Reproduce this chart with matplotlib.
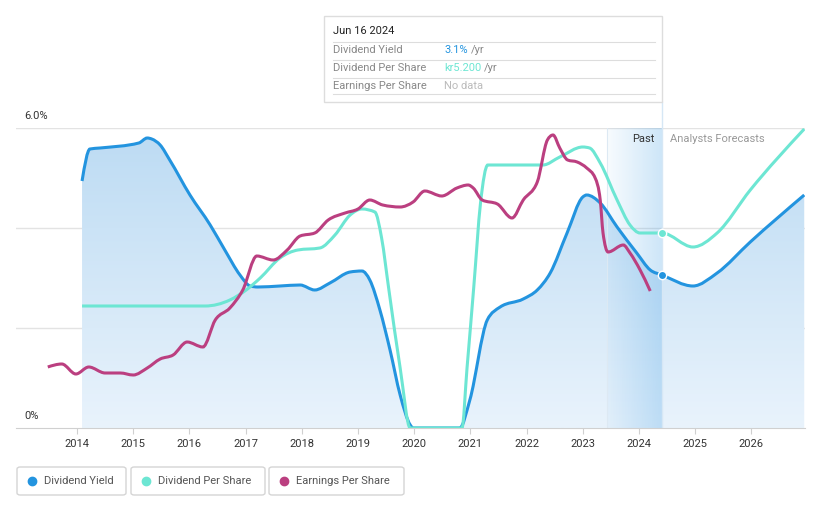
import numpy as np
import matplotlib
matplotlib.use("Agg")
from matplotlib import pyplot as plt
from matplotlib.patches import FancyBboxPatch, Rectangle, PathPatch
from matplotlib.path import Path
from matplotlib.lines import Line2D

plt.rcParams['font.family'] = ['Roboto', 'DejaVu Sans']

# dividend yield (%)
yieldYears = [2014.09, 2014.23, 2014.41, 2015.10, 2015.25, 2015.33, 2015.48, 2015.65,
              2016.01, 2016.37, 2016.63, 2016.90, 2017.08, 2017.22, 2017.61, 2017.97,
              2018.23, 2018.50, 2018.86, 2019.07, 2019.21, 2019.39, 2019.57, 2019.75,
              2019.93, 2019.98, 2020.81, 2020.99, 2021.30, 2021.53, 2021.94, 2022.19,
              2022.42, 2022.72, 2023.00, 2023.07, 2023.31, 2023.61, 2023.96, 2024.20,
              2024.41, 2024.96, 2025.39, 2025.98, 2026.94]
yieldVals = [4.94, 5.58, 5.60, 5.70, 5.80, 5.78, 5.66, 5.36,
             4.66, 4.06, 3.56, 3.06, 2.84, 2.82, 2.84, 2.86,
             2.76, 2.90, 3.12, 3.14, 2.96, 2.36, 1.56, 0.66,
             0.06, 0.0, 0.0, 0.56, 2.16, 2.42, 2.58, 2.76,
             3.10, 3.90, 4.62, 4.66, 4.50, 4.02, 3.50, 3.16,
             3.06, 2.84, 3.10, 3.72, 4.66]

# dividend per share (scaled to the same axis)
dpsYears = [2014.09, 2016.28, 2016.72, 2017.01, 2017.26, 2017.61, 2017.93, 2018.32,
            2018.59, 2018.86, 2019.07, 2019.30, 2019.42, 2019.55, 2019.75, 2019.93,
            2020.85, 2020.94, 2021.06, 2021.18, 2021.31, 2022.29, 2022.59, 2023.00,
            2023.12, 2023.31, 2023.61, 2023.84, 2024.02, 2024.41, 2024.96, 2025.39,
            2025.98, 2026.94]
dpsVals = [2.44, 2.44, 2.56, 2.76, 3.00, 3.40, 3.56, 3.60,
           3.86, 4.26, 4.38, 4.32, 3.80, 2.76, 1.20, 0.0,
           0.0, 1.20, 2.82, 4.50, 5.26, 5.26, 5.42, 5.62,
           5.60, 5.30, 4.56, 4.06, 3.90, 3.90, 3.62, 3.90,
           4.76, 5.98]

# earnings per share (scaled to the same axis)
epsYears = [2013.48, 2013.73, 2013.98, 2014.21, 2014.50, 2014.77, 2015.00, 2015.25,
            2015.48, 2015.71, 2015.96, 2016.24, 2016.46, 2016.72, 2016.95, 2017.20,
            2017.49, 2017.74, 2017.97, 2018.23, 2018.47, 2018.77, 2019.00, 2019.21,
            2019.44, 2019.75, 2019.98, 2020.19, 2020.49, 2020.76, 2020.96, 2021.05,
            2021.21, 2021.48, 2021.74, 2021.94, 2022.19, 2022.37, 2022.47, 2022.59,
            2022.73, 2022.90, 2023.07, 2023.22, 2023.31, 2023.36, 2023.45, 2023.72,
            2023.84, 2024.02, 2024.20]
epsVals = [1.22, 1.28, 1.08, 1.22, 1.10, 1.10, 1.06, 1.20,
           1.38, 1.46, 1.72, 1.62, 2.16, 2.40, 2.76, 3.44,
           3.36, 3.56, 3.84, 3.90, 4.16, 4.30, 4.38, 4.56,
           4.46, 4.42, 4.52, 4.74, 4.64, 4.80, 4.86, 4.80,
           4.56, 4.48, 4.20, 4.56, 4.92, 5.76, 5.86, 5.60,
           5.36, 5.32, 5.20, 5.00, 4.56, 3.90, 3.52, 3.66,
           3.50, 3.16, 2.74]

yearTicks = list(range(2014, 2027))
pastStart = 2023.43
nowYear = 2024.41

cBlue = "#2394df"
cCyan = "#6de6d3"
cMag = "#bb3f80"


def monotonePath(xs, ys, closeToZero=False):
  '''Bezier path through the points, like a monotone-x curve'''
  x = np.asarray(xs, float)
  y = np.asarray(ys, float)
  n = len(x)
  h = np.diff(x)
  s = np.diff(y) / h
  t = np.zeros(n)
  for i in range(1, n - 1):
    if s[i - 1] * s[i] <= 0:
      t[i] = 0
    else:
      p = (s[i - 1] * h[i] + s[i] * h[i - 1]) / (h[i - 1] + h[i])
      t[i] = np.sign(s[i - 1]) * min(abs(s[i - 1]), abs(s[i]), 0.5 * abs(p)) * 2
  t[0] = (3 * s[0] - t[1]) / 2
  t[-1] = (3 * s[-1] - t[-2]) / 2
  verts = [(x[0], y[0])]
  codes = [Path.MOVETO]
  for i in range(n - 1):
    d = h[i] / 3
    verts += [(x[i] + d, y[i] + d * t[i]), (x[i + 1] - d, y[i + 1] - d * t[i + 1]),
              (x[i + 1], y[i + 1])]
    codes += [Path.CURVE4] * 3
  if closeToZero:
    verts += [(x[-1], 0), (x[0], 0), (x[0], y[0])]
    codes += [Path.LINETO, Path.LINETO, Path.CLOSEPOLY]
  return Path(verts, codes)


W, H = 821, 508
fig = plt.figure(figsize=(W / 100, H / 100), dpi=100)

def fx(px):
  return px / W

def fy(py):
  return 1 - py / H

# plot area in pixels: x 16..805, y 128..428
ax = fig.add_axes([fx(16), fy(428), fx(805) - fx(16), fy(128) - fy(428)])
x0 = 2014 + (16 - 77) / 56.2
x1 = 2014 + (805 - 77) / 56.2
ax.set_xlim(x0, x1)
ax.set_ylim(0, 6)

# gradient fill under dividend yield
poly = PathPatch(monotonePath(yieldYears, yieldVals, True), facecolor="none", edgecolor="none")
ax.add_patch(poly)
grad = np.linspace(0, 1, 256).reshape(-1, 1)
cmapFill = matplotlib.colors.LinearSegmentedColormap.from_list("f", ["#e9f3fc", "#bcdbf3"])
im = ax.imshow(grad, extent=[x0, x1, 0, 6], origin="lower", aspect="auto",
               cmap=cmapFill, zorder=1)
im.set_clip_path(poly)

# past shaded band with horizontal gradient
bandColors = np.zeros((1, 256, 4))
bandColors[..., :3] = matplotlib.colors.to_rgb("#4aa3e6")
bandColors[0, :, 3] = np.linspace(0.04, 0.28, 256)
ax.imshow(bandColors, extent=[pastStart, nowYear, 0, 6], aspect="auto", zorder=1.5)

# grid
for g in [2, 4, 6]:
  ax.axhline(g, color="#e3e3e3", lw=1, zorder=0.5)
ax.axvline(nowYear, color="#d6e7f5", lw=1, zorder=1.6)
ax.plot([nowYear, nowYear], [6, 6 + (128 - 102) / 50.0], color="#d6e7f5", lw=1,
        clip_on=False, zorder=1.6)
ax.axvline(pastStart, color="#dde9f3", lw=0.8, zorder=1.6)

for xs, ys, col, z in [(yieldYears, yieldVals, cBlue, 3), (dpsYears, dpsVals, cCyan, 3),
                       (epsYears, epsVals, cMag, 4)]:
  ax.add_patch(PathPatch(monotonePath(xs, ys), facecolor="none", edgecolor=col, lw=2.2,
                         zorder=z, capstyle="butt"))

ax.plot([nowYear], [3.06], "o", color=cBlue, ms=6, mec="white", mew=1, zorder=5)
ax.plot([nowYear], [3.90], "o", color=cCyan, ms=6, mec="white", mew=1, zorder=5)

for s in ["top", "left", "right"]:
  ax.spines[s].set_visible(False)
ax.spines["bottom"].set_color("#d0d0d0")
ax.set_yticks([])
ax.set_xticks(yearTicks)
ax.set_xticklabels([str(y) for y in yearTicks])
ax.tick_params(axis="x", length=4, color="#d0d0d0", labelsize=8, labelcolor="#333333", pad=4)
ax.set_facecolor("none")

ax.text(nowYear - 0.14, 5.77, "Past", ha="right", va="center", fontsize=8, color="#333333")
ax.text(nowYear + 0.14, 5.77, "Analysts Forecasts", ha="left", va="center", fontsize=8,
        color="#999999")

fig.text(fx(24), fy(116), "6.0%", ha="left", va="center", fontsize=8, color="#333333")
fig.text(fx(24), fy(416), "0%", ha="left", va="center", fontsize=8, color="#333333")

# tooltip box
box = Rectangle((fx(324), fy(102)), fx(662) - fx(324), fy(16) - fy(102), transform=fig.transFigure,
                facecolor="white", edgecolor="#dddddd", lw=1, zorder=10)
fig.patches.append(box)
fig.text(fx(333), fy(31), "Jun 16 2024", fontsize=8, color="#222222", va="center", zorder=11)
rows = [("Dividend Yield", "3.1%", cBlue), ("Dividend Per Share", "kr5.200", cCyan),
        ("Earnings Per Share", "No data", "#bbbbbb")]
for i, (lab, val, col) in enumerate(rows):
  yy = 50 + i * 18
  fig.lines.append(Line2D([fx(333), fx(655)], [fy(yy - 8), fy(yy - 8)], transform=fig.transFigure,
                          color="#dddddd", lw=0.8, zorder=11))
  fig.text(fx(333), fy(yy), lab, fontsize=8, color="#888888", va="center", zorder=11)
  t = fig.text(fx(444), fy(yy), val, fontsize=8, color=col, va="center", zorder=11)
  if val != "No data":
    fig.canvas.draw()
    bb = t.get_window_extent()
    fig.text(bb.x1 / W + fx(3), fy(yy), "/yr", fontsize=8, color="#888888", va="center", zorder=11)
fig.lines.append(Line2D([fx(333), fx(655)], [fy(94), fy(94)], transform=fig.transFigure,
                        color="#dddddd", lw=0.8, zorder=11))

# legend boxes
legendItems = [("Dividend Yield", cBlue, 17, 126), ("Dividend Per Share", cCyan, 131, 265),
               ("Earnings Per Share", cMag, 269, 404)]
for lab, col, xa, xb in legendItems:
  fig.patches.append(FancyBboxPatch((fx(xa), fy(495)), fx(xb) - fx(xa), fy(467) - fy(495),
                                    boxstyle="round,pad=0,rounding_size=0.004",
                                    transform=fig.transFigure, facecolor="white",
                                    edgecolor="#d5d5d5", lw=1))
  fig.lines.append(Line2D([fx(xa + 15)], [fy(481)], marker="o", ms=6, color=col,
                          transform=fig.transFigure))
  fig.text(fx(xa + 27), fy(481), lab, fontsize=8, color="#555555", va="center")

fig.savefig("out.png", dpi=100)
